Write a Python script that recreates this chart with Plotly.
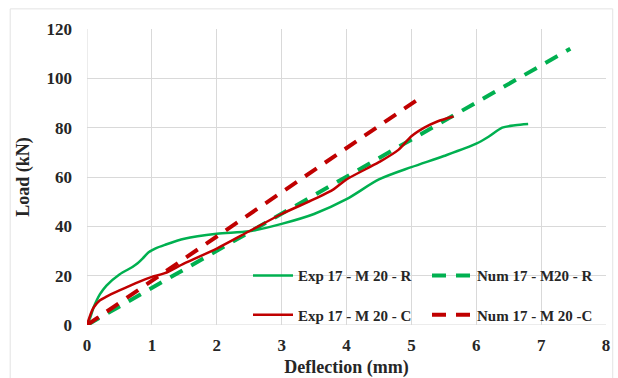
import plotly.graph_objects as go

# Experimental R (green solid)
exp_r_x = [0, 0.05, 0.1, 0.15, 0.2, 0.3, 0.5, 0.7, 0.78, 0.86, 0.95, 1.05, 1.2, 1.5, 2.0, 2.5, 3.0, 3.5, 4.0, 4.5, 5.0, 5.5, 6.0, 6.2, 6.4, 6.6, 6.8]
exp_r_y = [0, 3, 7, 10, 12.5, 16, 20.5, 23.5, 25, 27, 29.5, 31, 32.5, 35, 37, 38, 41, 45, 51, 59, 64, 68.5, 73.5, 76.5, 80, 81, 81.5]
# Experimental C (red solid)
exp_c_x = [0, 0.05, 0.1, 0.2, 0.3, 0.5, 0.8, 1.0, 1.2, 1.5, 2.0, 2.5, 3.0, 3.5, 3.8, 4.0, 4.5, 4.8, 5.0, 5.2, 5.4, 5.65]
exp_c_y = [0, 4, 7, 10, 11.5, 14, 17.5, 19.5, 21, 25, 31, 38, 45, 51, 55, 59, 66, 71, 76.5, 80, 82.5, 84.5]
# Numerical R (green dashed)
num_r_x = [0, 1.0, 2.0, 3.0, 4.0, 5.0, 6.0, 7.45]
num_r_y = [0, 15, 30, 45, 60, 75, 90, 112]
# Numerical C (red dashed)
num_c_x = [0, 1.0, 2.0, 3.0, 4.0, 5.13]
num_c_y = [0, 18, 36, 54, 72, 92]

x_ticks = [0, 1, 2, 3, 4, 5, 6, 7, 8]
y_ticks = [0, 20, 40, 60, 80, 100, 120]

green = "#00B050"
red = "#C00000"
font_fam = "Liberation Serif"
txt = "#262626"

fig = go.Figure()
fig.add_trace(go.Scatter(x=exp_r_x, y=exp_r_y, mode="lines", name="<b>Exp 17 - M 20 - R</b>",
                         line=dict(color=green, width=2.5, shape="spline", smoothing=0.8), legend="legend"))
fig.add_trace(go.Scatter(x=num_r_x, y=num_r_y, mode="lines", name="<b>Num 17 - M20 - R</b>",
                         line=dict(color=green, width=4, dash="14px,10px"), legend="legend"))
fig.add_trace(go.Scatter(x=exp_c_x, y=exp_c_y, mode="lines", name="<b>Exp 17 - M 20 - C</b>",
                         line=dict(color=red, width=2.5, shape="spline", smoothing=0.8), legend="legend2"))
fig.add_trace(go.Scatter(x=num_c_x, y=num_c_y, mode="lines", name="<b>Num 17 - M 20 -C</b>",
                         line=dict(color=red, width=4, dash="14px,10px"), legend="legend2"))

leg_common = dict(orientation="h", bgcolor="rgba(255,255,255,0)", borderwidth=0,
                  font=dict(family=font_fam, size=15, color=txt),
                  entrywidth=124, entrywidthmode="pixels", xanchor="right", yanchor="middle",
                  itemwidth=40, tracegroupgap=0)

fig.update_layout(
    width=618, height=378,
    margin=dict(l=87, r=12, t=29, b=53, autoexpand=False),
    paper_bgcolor="white", plot_bgcolor="white",
    font=dict(family=font_fam, size=16, color=txt),
    showlegend=True,
    legend=dict(x=1.0, y=0.166, **leg_common),
    legend2=dict(x=1.0, y=0.034, **leg_common),
    xaxis=dict(range=[0, 8], tickvals=x_ticks, ticktext=[f"<b>{v}</b>" for v in x_ticks],
               showgrid=True, gridcolor="#d9d9d9", gridwidth=1, automargin=False,
               zeroline=False, showline=False, ticks="", ticklabelstandoff=8,
               tickfont=dict(family=font_fam, size=17, color=txt),
               title=dict(text="<b>Deflection (mm)</b>", font=dict(family=font_fam, size=18, color=txt),
                          standoff=6)),
    yaxis=dict(range=[0, 120], tickvals=y_ticks, ticktext=[f"<b>{v}</b>" for v in y_ticks],
               showgrid=True, gridcolor="#d9d9d9", gridwidth=1, automargin=False,
               zeroline=False, showline=False, ticks="", ticklabelstandoff=14,
               tickfont=dict(family=font_fam, size=17, color=txt),
               title=dict(text="<b>Load (kN)</b>", font=dict(family=font_fam, size=18, color=txt),
                          standoff=12)),
    shapes=[
        dict(type="line", xref="x", yref="y", x0=0, x1=8, y0=0, y1=0, line=dict(color="#d9d9d9", width=1), layer="below"),
        dict(type="line", xref="x", yref="y", x0=0, x1=0, y0=0, y1=120, line=dict(color="#d9d9d9", width=1), layer="below"),
        dict(type="rect", xref="paper", yref="paper", x0=-0.148, x1=1.013, y0=-0.2, y1=1.068,
             line=dict(color="#e3e3e3", width=1), layer="below"),
    ],
)

fig.write_html("out.html")
